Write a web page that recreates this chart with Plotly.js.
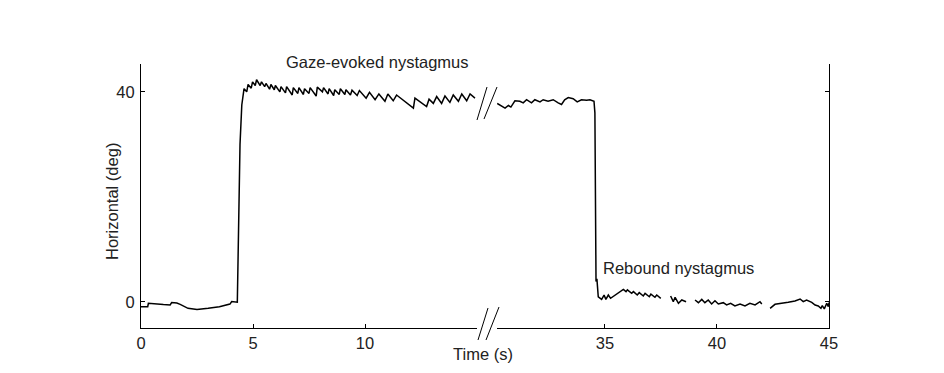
<!DOCTYPE html>
<html>
<head>
<meta charset="utf-8">
<script src="https://cdn.plot.ly/plotly-3.0.1.min.js"></script>
<style>html,body{margin:0;padding:0;background:#fff;}#chart{width:944px;height:373px;}</style>
</head>
<body>
<div id="chart"></div>
<script>
// Left part of the recording (0–15 s)
const leftTime = [0, 0.3, 0.33, 0.6, 1.0, 1.3, 1.37, 1.6, 1.75, 2.1, 2.5, 3.0, 3.5, 3.97, 4.05, 4.3, 4.36, 4.42, 4.5, 4.54,
  4.6, 4.72, 4.78, 4.92, 4.98, 5.1, 5.16, 5.32, 5.38, 5.52, 5.58, 5.74, 5.8, 5.95, 6.0, 6.2, 6.25, 6.45, 6.5, 6.75, 6.8,
  7.0, 7.05, 7.25, 7.3, 7.5, 7.55, 7.82, 7.87, 8.1, 8.15, 8.35, 8.4, 8.6, 8.65, 8.85, 8.9, 9.1, 9.15, 9.35, 9.42, 9.65, 9.75,
  10.05, 10.2, 10.45, 10.62, 10.89, 11.02, 11.26, 11.41, 12.16, 12.23, 12.75, 12.86, 13.05, 13.2, 13.42, 13.57, 13.79, 13.94,
  14.17, 14.32, 14.54, 14.69, 14.91];
const leftHoriz = [-0.9, -0.9, -0.25, -0.4, -0.5, -0.55, -0.1, -0.2, -0.45, -1.2, -1.45, -1.2, -0.9, -0.4, 0.1, -0.05, 12, 30, 37.5, 39.3,
  40.6, 40.0, 41.4, 40.7, 41.9, 41.2, 42.3, 41.2, 41.9, 41.0, 41.6, 40.5, 41.4, 40.4, 41.2, 40.0, 41.0, 39.8, 41.0, 39.4, 40.8,
  39.7, 40.8, 39.5, 40.6, 39.7, 40.8, 39.2, 40.9, 40.0, 40.8, 39.6, 40.6, 39.3, 40.4, 39.5, 40.6, 39.5, 40.4, 39.4, 40.3, 39.3, 40.25,
  38.8, 39.9, 38.5, 39.6, 38.2, 39.6, 38.3, 39.4, 36.9, 38.8, 37.2, 38.6, 37.8, 39.1, 37.8, 39.2, 38.0, 39.4,
  38.2, 39.6, 38.3, 39.6, 38.8];

// Right part of the recording (30–45 s), null = gap in the record
const rightTime = [30.19, 30.54, 30.69, 30.8, 30.98, 31.2, 31.35, 31.5, 31.72, 31.87, 32.1, 32.24, 32.46, 32.69, 32.91, 33.06, 33.2,
  33.36, 33.58, 33.76, 33.95, 34.18, 34.33, 34.51, 34.55, 34.57, 34.6, 34.64, 34.7, 34.85, 34.96, 35.04, 35.15, 35.25, 35.82,
  35.94, 36.0, 36.19, 36.27, 36.44, 36.53, 36.71, 36.79, 36.98, 37.05, 37.23, 37.31, 37.49, null,
  37.93, 38.05, 38.13, 38.28, 38.43, 38.62, null,
  39.02, 39.17, 39.32, 39.46, 39.61, 39.76, 39.91, 40.06, 40.28, 40.43, 40.61, 40.8, 41.03, 41.25, 41.47, 41.7, 41.92, 42.0, null,
  42.37, 42.59, 43.18, 43.48, 43.71, 43.85, 44.0, 44.23, 44.38, 44.52, 44.64, 44.7, 44.79, 44.9, 44.97, 45.0];
const rightHoriz = [37.8, 36.9, 37.4, 37.1, 38.3, 38.2, 37.9, 38.5, 37.9, 38.5, 38.1, 38.5, 38.2, 38.5, 37.9, 37.6, 38.5,
  38.9, 38.7, 38.1, 38.5, 38.4, 38.5, 38.2, 36, 6, 3.9, 4.4, 1.0, 0.5, 1.33, 0.5, 1.33, 0.7, 2.4,
  1.97, 2.3, 1.65, 1.97, 1.33, 1.78, 1.14, 1.65, 1.0, 1.5, 0.9, 1.33, 0.7, null,
  1.14, 0.06, 0.89, -0.25, 0.38, 0.06, null,
  0.38, -0.13, 0.5, -0.13, 0.38, -0.38, 0.25, -0.38, -0.13, -0.57, -0.25, -0.76, -0.38, -0.76, -0.25, -0.57, 0.06, -0.38, null,
  -1.2, -0.44, -0.06, 0.19, 0.57, 0.06, 0.38, -0.06, -0.57, -0.76, -1.2, -0.7, -1.3, -0.25, -0.9, -0.1];

const leftTicks = [0, 5, 10];
const rightTicks = [35, 40, 45];
const yTicks = [0, 40];
const labels = {x: 'Time (s)', y: 'Horizontal (deg)', gaze: 'Gaze-evoked nystagmus', rebound: 'Rebound nystagmus'};

const FONT = 'Arial, "Liberation Sans", Helvetica, sans-serif';
const TXT = {family: FONT, size: 16.5, color: '#222'};
const lineStyle = {color: '#000', width: 1.5};

const traces = [
  {x: leftTime, y: leftHoriz, xaxis: 'x', yaxis: 'y', type: 'scatter', mode: 'lines', line: lineStyle, connectgaps: false, hoverinfo: 'x+y'},
  {x: rightTime, y: rightHoriz, xaxis: 'x2', yaxis: 'y2', type: 'scatter', mode: 'lines', line: lineStyle, connectgaps: false, hoverinfo: 'x+y'}
];

const W = 688, H = 264; // plot area in px (for paper conversions)
const px = v => (v - 141) / W;
const py = v => (328 - v) / H;

const yRange = [-4.95, 45.3];
const axisCommon = {
  showline: true, linecolor: '#000', linewidth: 1, ticks: 'inside', ticklen: 4, tickcolor: '#000',
  showgrid: false, zeroline: false, tickfont: TXT, fixedrange: true
};

const slash = (x0, y0, x1, y1) => ({type: 'line', xref: 'paper', yref: 'paper', x0: px(x0), y0: py(y0), x1: px(x1), y1: py(y1), line: {color: '#000', width: 1}});

const layout = {
  width: 944, height: 373,
  margin: {l: 141, r: 115, t: 64, b: 45},
  paper_bgcolor: '#fff', plot_bgcolor: '#fff',
  showlegend: false,
  font: TXT,
  xaxis: Object.assign({}, axisCommon, {domain: [0, px(477)], range: [0, 15], tickvals: leftTicks, anchor: 'y'}),
  xaxis2: Object.assign({}, axisCommon, {domain: [px(497), 1], range: [30.18, 45], tickvals: rightTicks, anchor: 'y2'}),
  yaxis: Object.assign({}, axisCommon, {range: yRange, tickvals: yTicks, anchor: 'x', ticklabelstandoff: 2}),
  yaxis2: Object.assign({}, axisCommon, {range: yRange, tickvals: yTicks, anchor: 'x2', overlaying: 'y', side: 'right', showticklabels: false}),
  shapes: [
    slash(477, 120, 487, 87), slash(484, 119, 497, 87),
    slash(478, 340, 488, 308), slash(486, 340, 499, 307)
  ],
  annotations: [
    {text: labels.gaze, xref: 'paper', yref: 'paper', x: px(377.5), y: py(73), xanchor: 'center', yanchor: 'bottom', showarrow: false, font: TXT},
    {text: labels.rebound, xref: 'paper', yref: 'paper', x: px(601), y: py(279), xanchor: 'left', yanchor: 'bottom', showarrow: false, font: TXT},
    {text: labels.x, xref: 'paper', yref: 'paper', x: px(482.5), y: py(365), xanchor: 'center', yanchor: 'bottom', showarrow: false, font: TXT},
    {text: labels.y, xref: 'paper', yref: 'paper', x: px(112), y: py(202), xanchor: 'center', yanchor: 'middle', textangle: -90, showarrow: false, font: TXT}
  ]
};

Plotly.newPlot('chart', traces, layout, {displayModeBar: false, staticPlot: true});
</script>
</body>
</html>
